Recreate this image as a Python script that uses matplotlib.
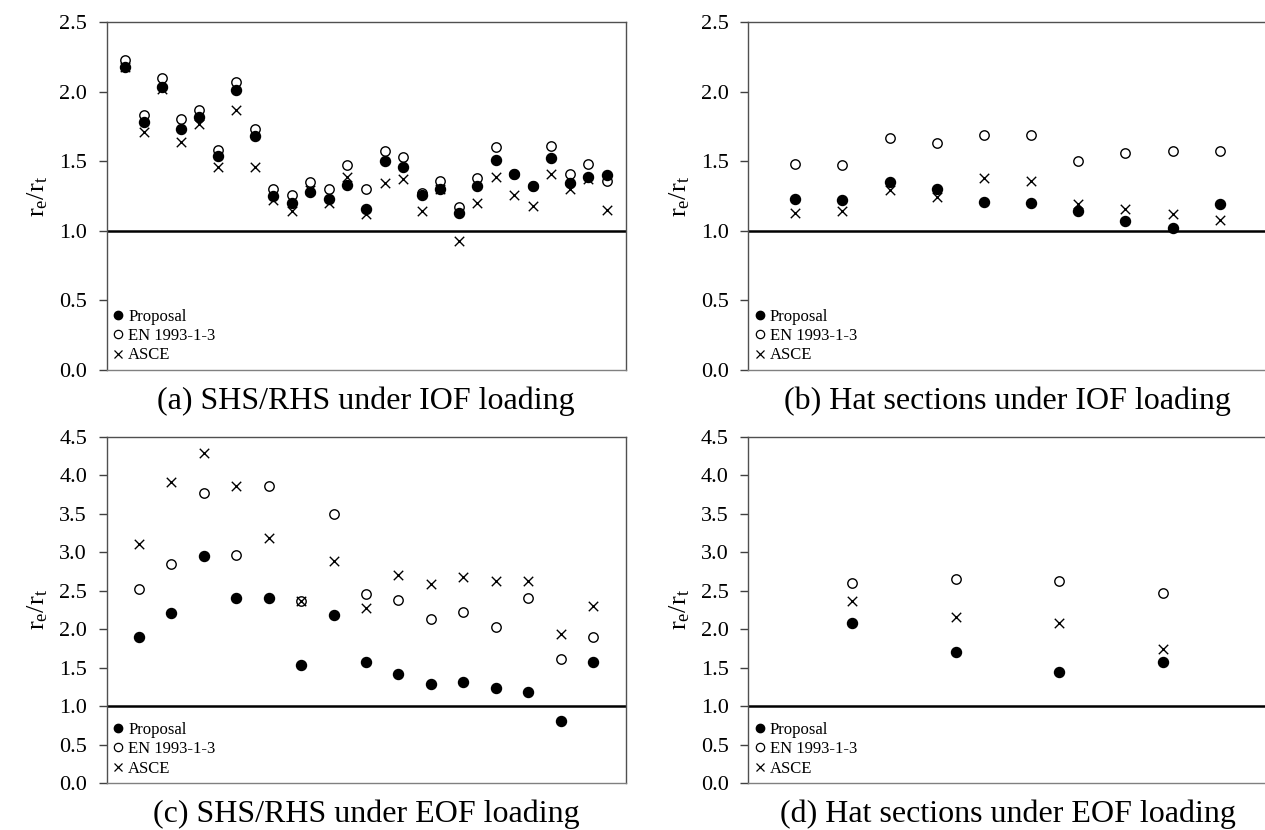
import matplotlib
matplotlib.use("Agg")
import matplotlib.pyplot as plt
from matplotlib.lines import Line2D
import numpy as np

plt.rcParams['font.family'] = ['Liberation Serif', 'DejaVu Serif']
plt.rcParams['mathtext.fontset'] = 'custom'
plt.rcParams['mathtext.rm'] = 'Liberation Serif'
plt.rcParams['mathtext.it'] = 'Liberation Serif:italic'

# (a) SHS/RHS under IOF loading
prop_a = [2.18, 1.78, 2.03, 1.73, 1.82, 1.54, 2.01, 1.68, 1.25, 1.20, 1.28, 1.23, 1.33, 1.16,
          1.50, 1.46, 1.26, 1.30, 1.13, 1.32, 1.51, 1.41, 1.32, 1.52, 1.34, 1.39, 1.40]
en_a = [2.23, 1.83, 2.10, 1.80, 1.87, 1.58, 2.07, 1.73, 1.30, 1.26, 1.35, 1.30, 1.47, 1.30,
        1.57, 1.53, 1.27, 1.36, 1.17, 1.38, 1.60, 1.41, 1.32, 1.61, 1.41, 1.48, 1.36]
asce_a = [2.18, 1.71, 2.02, 1.64, 1.77, 1.46, 1.87, 1.46, 1.22, 1.14, 1.29, 1.20, 1.39, 1.12,
          1.34, 1.37, 1.14, 1.30, 0.93, 1.20, 1.39, 1.26, 1.18, 1.41, 1.30, 1.37, 1.15]

# (b) Hat sections under IOF loading
prop_b = [1.23, 1.22, 1.35, 1.30, 1.21, 1.20, 1.14, 1.07, 1.02, 1.19]
en_b = [1.48, 1.47, 1.67, 1.63, 1.69, 1.69, 1.50, 1.56, 1.57, 1.57]
asce_b = [1.13, 1.14, 1.29, 1.24, 1.38, 1.36, 1.19, 1.16, 1.12, 1.08]

# (c) SHS/RHS under EOF loading
prop_c = [1.90, 2.21, 2.95, 2.40, 2.40, 1.53, 2.19, 1.58, 1.42, 1.29, 1.32, 1.23, 1.18, 0.81, 1.57]
en_c = [2.52, 2.85, 3.77, 2.97, 3.86, 2.36, 3.49, 2.46, 2.38, 2.13, 2.22, 2.03, 2.41, 1.61, 1.90]
asce_c = [3.10, 3.91, 4.29, 3.86, 3.19, 2.36, 2.88, 2.27, 2.71, 2.59, 2.68, 2.62, 2.62, 1.94, 2.30]

# (d) Hat sections under EOF loading
prop_d = [2.08, 1.71, 1.45, 1.57]
en_d = [2.60, 2.65, 2.62, 2.47]
asce_d = [2.36, 2.16, 2.08, 1.74]

titulos = ["(a) SHS/RHS under IOF loading", "(b) Hat sections under IOF loading",
           "(c) SHS/RHS under EOF loading", "(d) Hat sections under EOF loading"]
etiquetas = ["Proposal", "EN 1993-1-3", "ASCE"]

fig = plt.figure(figsize=(12.65, 8.3), dpi=100)
W, H = 1265, 830

def panel(left, top, height, datos, ymax, xmax, titulo):
    ax = fig.add_axes([left / W, (H - top - height) / H, 519 / W, height / H])
    prop, en, asce = datos
    x = np.arange(1, len(prop) + 1)
    ax.scatter(x, en, s=46, facecolors='white', edgecolors='black', linewidths=1.0, zorder=3)
    ax.scatter(x, asce, s=46, marker='x', color='black', linewidths=1.0, zorder=4)
    ax.scatter(x, prop, s=52, color='black', zorder=5)
    ax.axhline(1.0, color='black', lw=1.8, zorder=2)
    ax.set_xlim(0, xmax)
    ax.set_ylim(0, ymax)
    ticks = np.arange(0, ymax + 0.01, 0.5)
    ax.set_yticks(ticks)
    ax.set_yticklabels([f"{v:.1f}" for v in ticks])
    ax.set_xticks([])
    ax.tick_params(axis='y', labelsize=16, length=6, width=1, color='#404040', pad=8)
    for s in ax.spines.values():
        s.set_color('#505050')
        s.set_linewidth(1.0)
    ax.spines['bottom'].set_color('#808080')
    ax.set_ylabel(r'$\mathrm{r_e/r_t}$', fontsize=19)
    ax.yaxis.set_label_coords(-56 / 519, 0.5)
    ax.text(0.5, -31 / height, titulo, transform=ax.transAxes, ha='center', va='center',
            fontsize=23)
    handles = [Line2D([], [], ls='none', marker='o', ms=6, color='black'),
               Line2D([], [], ls='none', marker='o', ms=6, mfc='white', mec='black', mew=0.9),
               Line2D([], [], ls='none', marker='x', ms=6, color='black', mew=0.9)]
    ax.legend(handles, etiquetas, loc='lower left', frameon=False, fontsize=12,
              handlelength=0.6, handletextpad=0.3, labelspacing=0.2,
              borderaxespad=0.2, borderpad=0.2)
    return ax

panel(106.5, 22, 348, (prop_a, en_a, asce_a), 2.5, 28, titulos[0])
panel(748, 22, 348, (prop_b, en_b, asce_b), 2.5, 11, titulos[1])
panel(106.5, 436.7, 346.5, (prop_c, en_c, asce_c), 4.5, 16, titulos[2])
panel(748, 436.7, 346.5, (prop_d, en_d, asce_d), 4.5, 5, titulos[3])

fig.savefig("out.png", dpi=100)
